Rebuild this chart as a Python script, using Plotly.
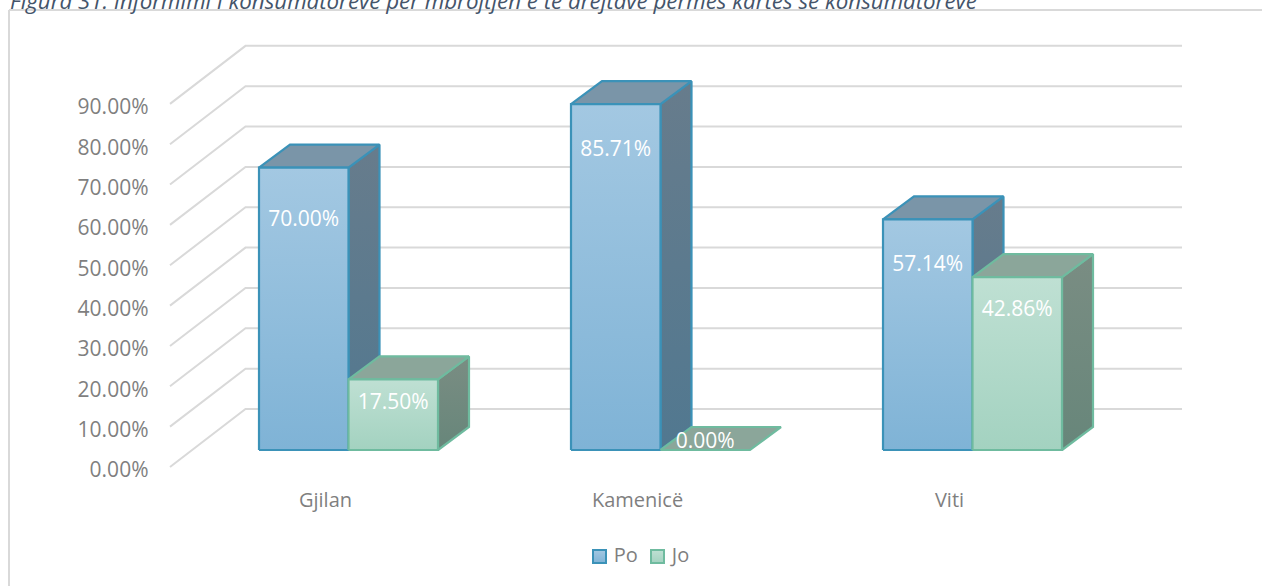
import plotly.graph_objects as go

# ---- data ----
categories = ["Gjilan", "Kamenicë", "Viti"]
po_values = [70.00, 85.71, 57.14]
jo_values = [17.50, 0.00, 42.86]
y_ticks = [0, 10, 20, 30, 40, 50, 60, 70, 80, 90]
y_tick_labels = ["0.00%", "10.00%", "20.00%", "30.00%", "40.00%", "50.00%", "60.00%", "70.00%", "80.00%", "90.00%"]
series_names = ["Po", "Jo"]
title_text = "Figura 31. Informimi i konsumatorëve për mbrojtjen e të drejtave përmes kartes së konsumatorëve"

# ---- layout constants (pixels of the 1262x586 page) ----
W, H = 1262, 586
XAXIS_PX = 486
PX_PER_CAT = 312.0
CAT0_PX = 348.5
PX_PER_PCT = 4.035
FRONT_ZERO_PX = 467
BAR_ZERO_PX = 450
BAR_W = 89.5 / PX_PER_CAT
DEPTH_X = 31 / PX_PER_CAT
DEPTH_Y = 23 / PX_PER_PCT
WALL_FRONT_X = (170 - CAT0_PX) / PX_PER_CAT
WALL_BACK_X = (245.5 - CAT0_PX) / PX_PER_CAT
WALL_RIGHT_X = (1182 - CAT0_PX) / PX_PER_CAT
WALL_DY = 58 / PX_PER_PCT
CAT_LABEL_SHIFT = 23 / PX_PER_CAT
# how far below each bar's top its data label sits (px)
PO_LABEL_DROP = [53, 47, 46]
JO_LABEL_DROP = [24, -7, 34]
# legend swatch centres (px)
LEGEND_SWATCH_PX = [599.5, 657.5]
LEGEND_Y_PX = 556.5

GRID = "#d9d9d9"
TXT = "#7f7f7f"
STYLE = {
    "Po": dict(line="#3b92b8", front=("#a3c8e2", "#7fb3d6"), side=("#677c8c", "#517890"), top="#7a95a8"),
    "Jo": dict(line="#6fbb9f", front=("#bfe0d3", "#a3d2c0"), side=("#7a8d83", "#67867a"), top="#8ba69a"),
}

fig = go.Figure()

# gridlines: front-left diagonal, then along the back wall
gx, gy = [], []
for t in y_ticks:
    gx += [WALL_FRONT_X, WALL_BACK_X, WALL_RIGHT_X, None]
    gy += [t, t + WALL_DY, t + WALL_DY, None]
fig.add_trace(go.Scatter(x=gx, y=gy, mode="lines", line=dict(color=GRID, width=2),
                         showlegend=False, hoverinfo="skip", yaxis="y"))


def face(xs, ys, style, fill):
    kw = dict(fillcolor=fill) if isinstance(fill, str) else dict(
        fillgradient=dict(type="vertical", colorscale=[[0, fill[1]], [1, fill[0]]]))
    fig.add_trace(go.Scatter(x=xs, y=ys, mode="lines", fill="toself",
                             line=dict(color=style["line"], width=2.2),
                             showlegend=False, hoverinfo="skip", yaxis="y2", **kw))


def bar3d(left, value, style):
    r = left + BAR_W
    if value > 0:
        face([r, r + DEPTH_X, r + DEPTH_X, r, r], [0, DEPTH_Y, value + DEPTH_Y, value, 0], style, style["side"])
    face([left, left + DEPTH_X, r + DEPTH_X, r, left],
         [value, value + DEPTH_Y, value + DEPTH_Y, value, value], style, style["top"])
    if value > 0:
        face([left, r, r, left, left], [0, 0, value, value, 0], style, style["front"])


lx, ly, lt = [], [], []
for i in range(len(categories)):
    bar3d(i - BAR_W, po_values[i], STYLE["Po"])
    bar3d(i, jo_values[i], STYLE["Jo"])
    lx += [i - BAR_W / 2, i + BAR_W / 2]
    ly += [po_values[i] - PO_LABEL_DROP[i] / PX_PER_PCT, jo_values[i] - JO_LABEL_DROP[i] / PX_PER_PCT]
    lt += [f"{po_values[i]:.2f}%", f"{jo_values[i]:.2f}%"]

fig.add_trace(go.Scatter(x=lx, y=ly, text=lt, mode="text", yaxis="y2", showlegend=False, hoverinfo="skip",
                         textfont=dict(color="white", size=21, family="Open Sans")))

# legend entries, tight swatch-to-text spacing as in the reference
for name, sx in zip(series_names, LEGEND_SWATCH_PX):
    st = STYLE[name]
    fig.add_trace(go.Scatter(x=[(sx - CAT0_PX) / PX_PER_CAT],
                             y=[(FRONT_ZERO_PX - LEGEND_Y_PX) / PX_PER_PCT],
                             mode="markers+text", name=name, text=[" " + name], textposition="middle right",
                             showlegend=False, hoverinfo="skip", yaxis="y",
                             textfont=dict(size=20, color=TXT, family="Open Sans"),
                             marker=dict(symbol="square", size=13, color=st["front"][0],
                                         gradient=dict(type="vertical", color=st["front"][1]),
                                         line=dict(color=st["line"], width=2))))

y_range = [(FRONT_ZERO_PX - H) / PX_PER_PCT, FRONT_ZERO_PX / PX_PER_PCT]
y2_range = [(BAR_ZERO_PX - H) / PX_PER_PCT, BAR_ZERO_PX / PX_PER_PCT]


def py(p):
    return (H - p) / H


fig.update_layout(
    width=W, height=H, margin=dict(l=0, r=0, t=0, b=0, pad=0),
    paper_bgcolor="white", plot_bgcolor="rgba(0,0,0,0)", showlegend=False,
    font=dict(family="Open Sans", size=20, color=TXT),
    xaxis=dict(range=[-CAT0_PX / PX_PER_CAT, (W - CAT0_PX) / PX_PER_CAT], tickmode="array",
               tickvals=[i - CAT_LABEL_SHIFT for i in range(len(categories))], ticktext=categories, showgrid=False,
               zeroline=False, showline=False, ticks="", tickfont=dict(size=20, color=TXT),
               anchor="free", position=py(XAXIS_PX)),
    yaxis=dict(range=y_range, tickmode="array", tickvals=y_ticks, ticktext=y_tick_labels, showgrid=False,
               zeroline=False, showline=False, ticks="", anchor="free", position=148.5 / W,
               tickfont=dict(size=21, color=TXT), ticklabelshift=3),
    yaxis2=dict(range=y2_range, overlaying="y", visible=False),
    shapes=[
        dict(type="line", xref="paper", yref="paper", x0=9 / W, x1=9 / W, y0=py(10), y1=py(H), line=dict(color=GRID, width=2)),
        dict(type="line", xref="paper", yref="paper", x0=9 / W, x1=1, y0=py(10), y1=py(10), line=dict(color=GRID, width=2)),
    ],
    annotations=[dict(text=f"<i>{title_text}</i>", xref="paper", yref="paper", x=8 / W, y=py(0),
                      xanchor="left", yanchor="middle", showarrow=False,
                      font=dict(family="Open Sans", size=22.3, color="#44546a"))],
)

fig.write_html("out.html", config=dict(displayModeBar=False),
               post_script="document.body.style.margin='0';document.body.style.overflow='hidden';")
